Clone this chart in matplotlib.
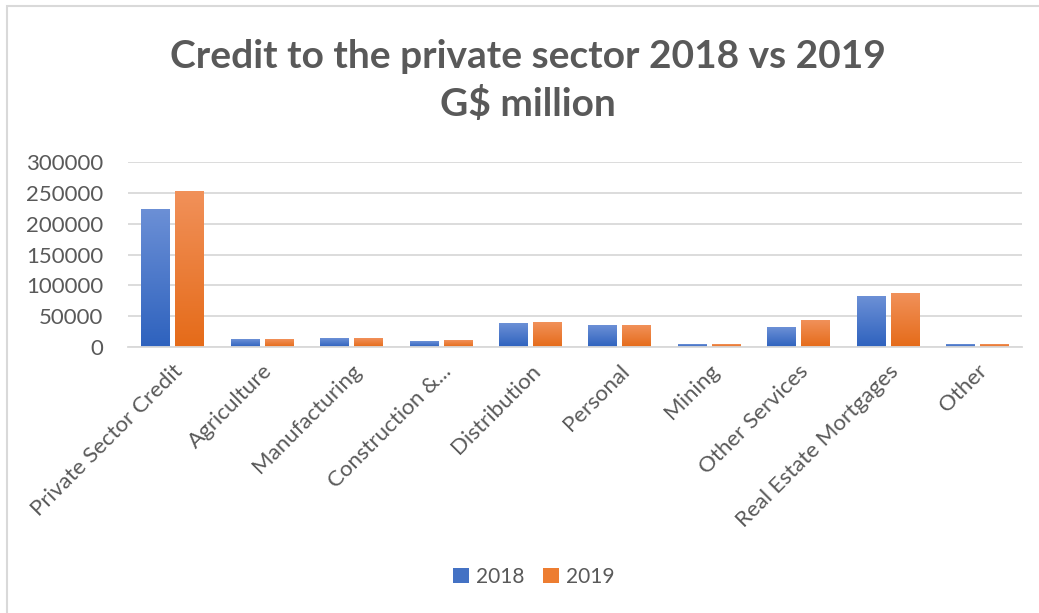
import numpy as np
import matplotlib.pyplot as plt
from matplotlib.patches import Rectangle
from matplotlib.colors import LinearSegmentedColormap

# Credit by sector, G$ million
categories = ["Private Sector Credit", "Agriculture", "Manufacturing", "Construction &...",
              "Distribution", "Personal", "Mining", "Other Services",
              "Real Estate Mortgages", "Other"]
credit_2018 = [224000, 12500, 14000, 9300, 38600, 35300, 4200, 32000, 82600, 4200]
credit_2019 = [253500, 12500, 14000, 11000, 40000, 35300, 4200, 43500, 87500, 4200]
y_ticks = [0, 50000, 100000, 150000, 200000, 250000, 300000]

plt.rcParams['font.family'] = ['Lato', 'DejaVu Sans']
text_col = "#595959"
grid_col = "#D9D9D9"

fig = plt.figure(figsize=(10.39, 6.13), dpi=100)
ax = fig.add_axes([0.1232, 0.4339, 0.8604, 0.3018])

x = np.arange(len(categories))
w = 0.32
b18 = ax.bar(x - 0.19, credit_2018, w, color="#4472C4", zorder=2, label="2018")
b19 = ax.bar(x + 0.19, credit_2019, w, color="#ED7D31", zorder=2, label="2019")

# vertical gradient fill on each bar (light top, dark bottom)
blue_cm = LinearSegmentedColormap.from_list("b", ["#2E62BE", "#6C90D6"])
orange_cm = LinearSegmentedColormap.from_list("o", ["#E56B19", "#F1915A"])
grad = np.linspace(0, 1, 256).reshape(-1, 1)
for bars, cm in ((b18, blue_cm), (b19, orange_cm)):
    for p in bars:
        x0, y0 = p.get_x(), p.get_y()
        im = ax.imshow(grad, cmap=cm, aspect="auto", origin="lower",
                       extent=(x0, x0 + p.get_width(), y0, y0 + p.get_height()),
                       zorder=2.5)
        im.set_clip_path(p)

ax.set_xlim(-0.5, len(categories) - 0.5)
ax.set_ylim(0, 300000)
ax.set_yticks(y_ticks)
ax.set_yticklabels([str(v) for v in y_ticks])
ax.set_xticks(x)
ax.set_xticklabels(categories, rotation=45, ha="right", va="top", rotation_mode="anchor")
ax.tick_params(axis="both", length=0, labelsize=16, colors=text_col)
ax.tick_params(axis="x", pad=10)
ax.tick_params(axis="y", pad=18)
ax.grid(axis="y", color=grid_col, linewidth=1.3, zorder=0)
for s in ("top", "right", "left"):
    ax.spines[s].set_visible(False)
ax.spines["bottom"].set_color(grid_col)
ax.spines["bottom"].set_linewidth(1.3)

fig.text(0.508, 0.868, "Credit to the private sector 2018 vs 2019\nG$ million",
         ha="center", va="center", fontsize=28, fontweight="bold",
         color=text_col, linespacing=1.4)

leg = fig.legend(handles=[b18, b19], loc="center", bbox_to_anchor=(0.514, 0.059),
                 ncol=2, frameon=False, fontsize=15, labelcolor=text_col,
                 handlelength=0.75, handleheight=0.75, handletextpad=0.35, columnspacing=0.9)

# chart frame
fig.patches.append(Rectangle((7 / 1039, -0.05), 1.1, 1 - 6 / 613 + 0.05,
                             transform=fig.transFigure, fill=False,
                             edgecolor=grid_col, linewidth=1.5))

fig.savefig("out.png", dpi=100)
